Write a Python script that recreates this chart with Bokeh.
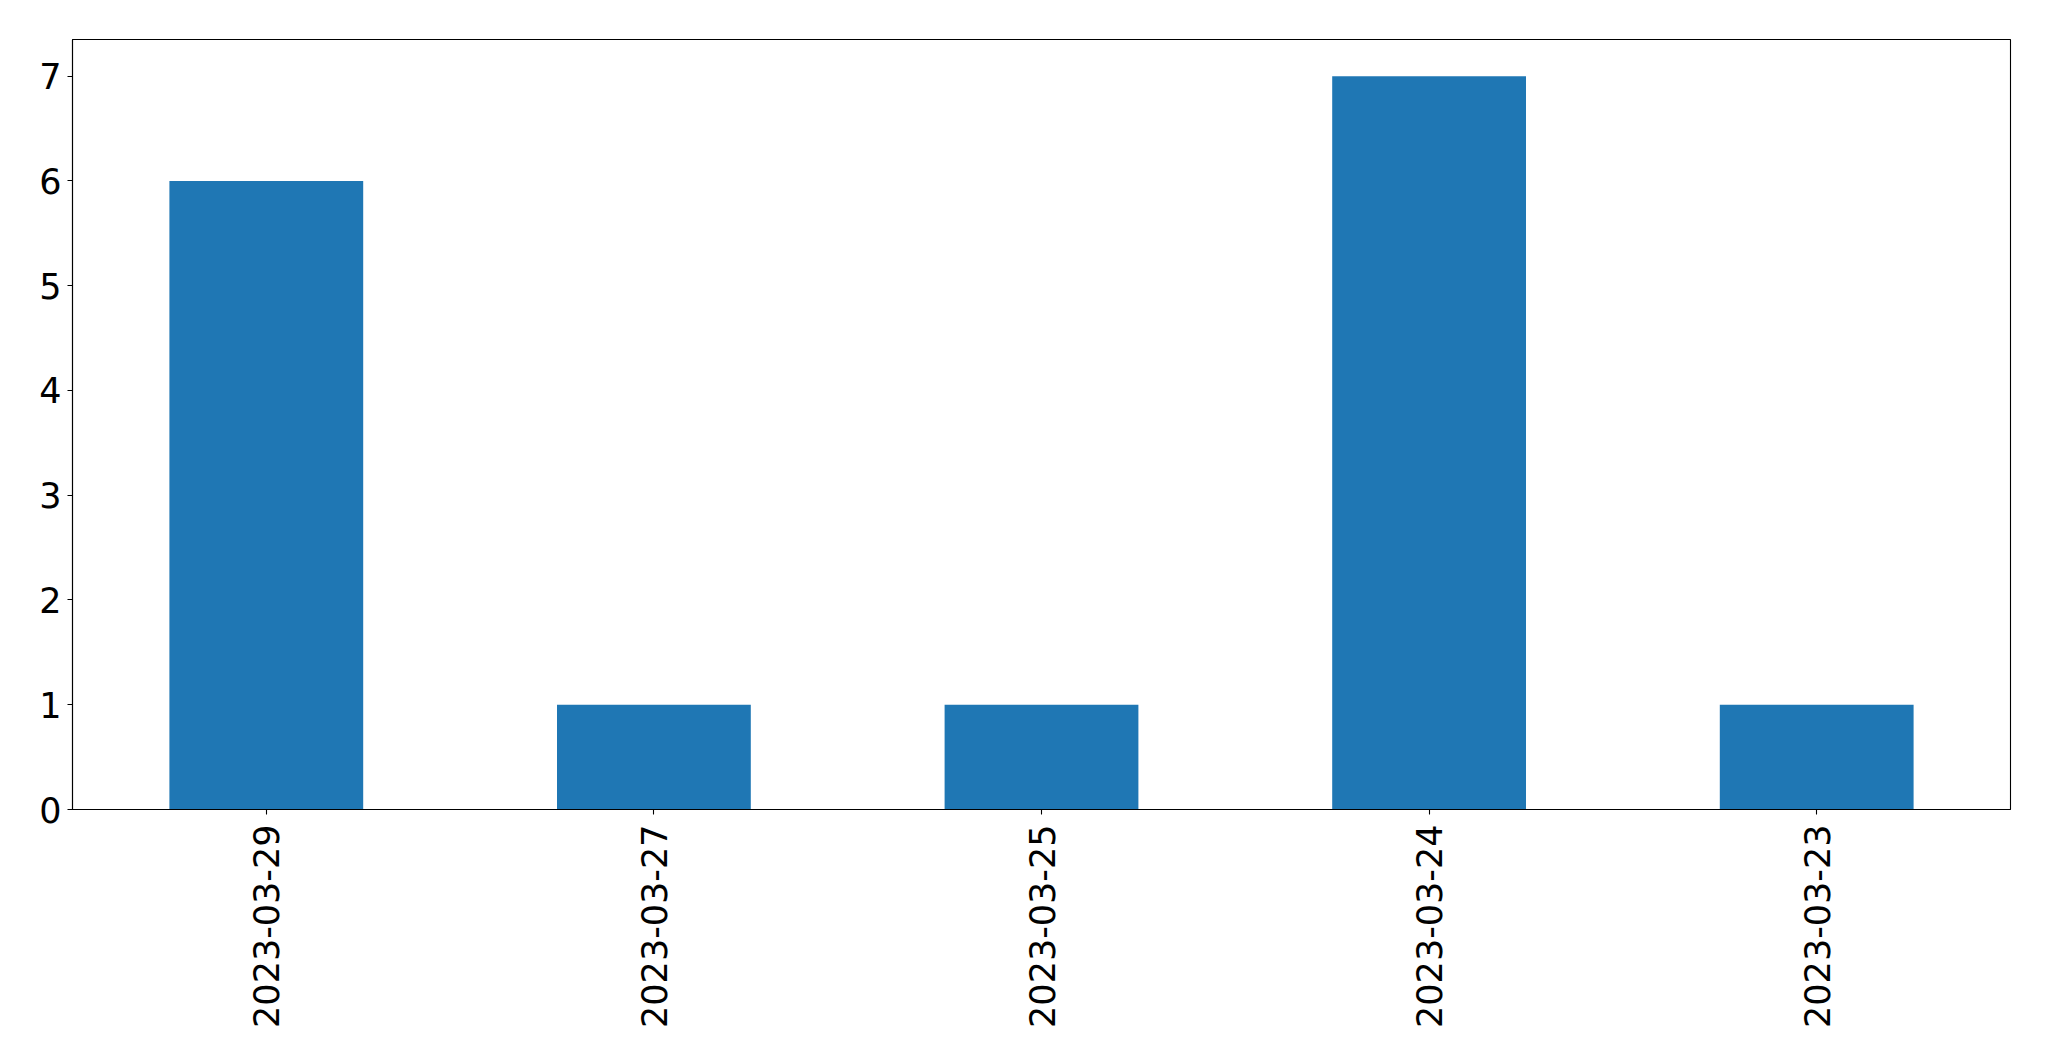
import math
from bokeh.plotting import figure
from bokeh.models import FactorRange, Range1d, FixedTicker, ColumnDataSource
from bokeh.embed import file_html
from bokeh.resources import INLINE

dates = ["2023-03-29", "2023-03-27", "2023-03-25", "2023-03-24", "2023-03-23"]
counts = [6, 1, 1, 7, 1]
y_ticks = [0, 1, 2, 3, 4, 5, 6, 7]

src = ColumnDataSource(dict(x=dates, top=counts))

p = figure(
    width=2038, height=1048,
    x_range=FactorRange(*dates),
    y_range=Range1d(0, 7.35),
    output_backend="svg", toolbar_location=None,
    min_border_left=72, min_border_top=39, min_border_right=28, min_border_bottom=239,
)
p.vbar(x="x", top="top", width=0.5, bottom=0, source=src, fill_color="#1f77b4", line_color=None)

p.xgrid.visible = False
p.ygrid.visible = False
p.outline_line_color = "black"
p.outline_line_width = 1.1
p.outline_line_alpha = 1

for ax in (p.xaxis[0], p.yaxis[0]):
    ax.axis_line_color = "black"
    ax.axis_line_width = 1.1
    ax.major_tick_line_color = "black"
    ax.major_tick_line_width = 1.1
    ax.major_tick_out = 5
    ax.major_tick_in = 0
    ax.minor_tick_line_color = None
    ax.major_label_text_font = "DejaVu Sans"
    ax.major_label_text_font_size = "35px"
    ax.major_label_text_color = "black"

p.yaxis[0].ticker = FixedTicker(ticks=y_ticks)
p.yaxis[0].major_label_standoff = 6
p.xaxis[0].major_label_orientation = math.pi / 2
p.xaxis[0].major_label_standoff = 10

open("out.html", "w").write(file_html(p, INLINE))
